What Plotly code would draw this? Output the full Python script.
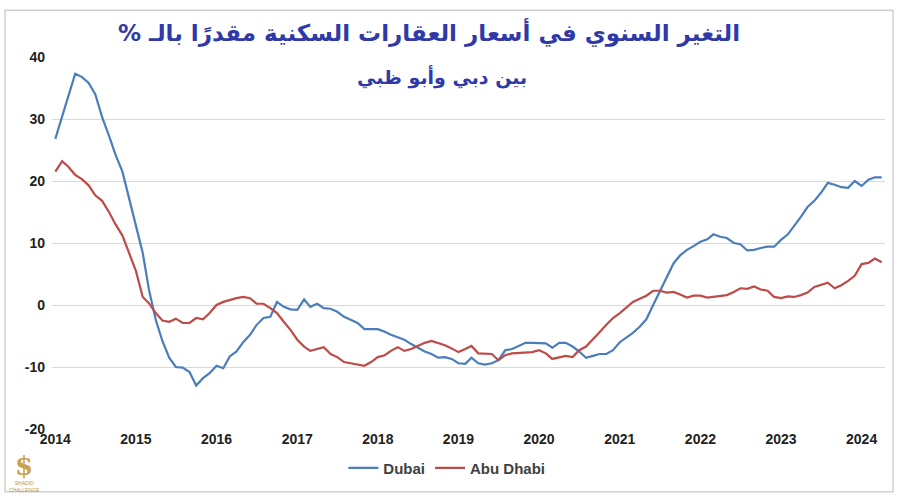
import pandas as pd
import plotly.graph_objects as go

months = pd.date_range("2014-01-01", periods=124, freq="MS")

dubai = [
    26.8, 30.3, 33.8, 37.3, 36.8, 35.8, 34.0, 30.3, 27.3, 24.2, 21.5, 17.0,
    12.8, 8.4, 2.5, -2.4, -5.8, -8.5, -10.0, -10.1, -10.8, -13.0, -11.8, -11.0,
    -9.8, -10.2, -8.3, -7.5, -6.0, -4.8, -3.2, -2.1, -1.9, 0.5, -0.3, -0.7,
    -0.8, 0.9, -0.3, 0.2, -0.5, -0.6, -1.1, -1.9, -2.4, -2.9, -3.9, -3.9,
    -3.9, -4.3, -4.8, -5.2, -5.6, -6.3, -6.9, -7.5, -7.9, -8.5, -8.4, -8.7,
    -9.4, -9.5, -8.5, -9.4, -9.6, -9.4, -8.9, -7.3, -7.1, -6.6, -6.1, -6.1,
    -6.1, -6.2, -6.9, -6.1, -6.1, -6.7, -7.5, -8.5, -8.2, -7.9, -7.9, -7.3,
    -6.0, -5.2, -4.5, -3.5, -2.3, 0.0, 2.2, 4.5, 6.7, 8.0, 8.9, 9.5,
    10.2, 10.6, 11.4, 11.0, 10.8, 10.0, 9.8, 8.8, 8.9, 9.2, 9.4, 9.4,
    10.5, 11.4, 12.7, 14.2, 15.8, 16.8, 18.1, 19.7, 19.4, 19.0, 18.9, 20.0,
    19.2, 20.2, 20.6, 20.6,
]

abu_dhabi = [
    21.5, 23.2, 22.3, 21.0, 20.3, 19.3, 17.7, 16.8, 15.0, 13.0, 11.2, 8.5,
    5.5, 1.3, 0.3, -1.3, -2.5, -2.7, -2.2, -2.9, -2.9, -2.1, -2.3, -1.3,
    0.0, 0.5, 0.8, 1.1, 1.3, 1.1, 0.2, 0.2, -0.5, -1.3, -2.7, -4.0,
    -5.6, -6.7, -7.4, -7.1, -6.8, -7.9, -8.4, -9.2, -9.4, -9.5, -9.8, -9.2,
    -8.4, -8.1, -7.4, -6.8, -7.4, -7.1, -6.6, -6.1, -5.8, -6.1, -6.5, -7.0,
    -7.6, -7.1, -6.6, -7.8, -7.9, -7.9, -8.9, -8.1, -7.8, -7.7, -7.6, -7.6,
    -7.3, -7.8, -8.7, -8.4, -8.2, -8.4, -7.3, -6.7, -5.6, -4.4, -3.2, -2.1,
    -1.3, -0.3, 0.5, 1.0, 1.5, 2.3, 2.3, 2.0, 2.1, 1.7, 1.2, 1.5,
    1.5, 1.2, 1.3, 1.5, 1.6, 2.1, 2.7, 2.6, 3.0, 2.5, 2.3, 1.3,
    1.1, 1.4, 1.3, 1.6, 2.0, 2.9, 3.2, 3.6, 2.7, 3.2, 3.9, 4.7,
    6.6, 6.8, 7.5, 6.9,
]

year_ticks = pd.date_range("2014-01-01", "2024-01-01", freq="YS")
year_labels = [str(d.year) for d in year_ticks]
y_ticks = [-20, -10, 0, 10, 20, 30, 40]

title_line1 = "\u202Bالتغير السنوي في أسعار العقارات السكنية مقدرًا بالـ %\u202C\u200F"
title_line2 = "\u202Bبين دبي وأبو ظبي\u202C"

fig = go.Figure()
fig.add_trace(go.Scatter(x=months, y=dubai, mode="lines", name="<b>Dubai</b>",
                         line=dict(color="#4a7ebb", width=2.2)))
fig.add_trace(go.Scatter(x=months, y=abu_dhabi, mode="lines", name="<b>Abu Dhabi</b>",
                         line=dict(color="#be4b48", width=2.2)))

tick_font = dict(family="Liberation Sans", size=14, color="#222222")

fig.update_layout(
    width=900, height=500,
    margin=dict(l=52, r=15, t=57, b=71),
    paper_bgcolor="white", plot_bgcolor="white",
    showlegend=True,
    legend=dict(orientation="h", x=0.474, xanchor="center", y=-0.105, yanchor="middle",
                font=dict(family="Liberation Sans", size=15, color="#404040"),
                itemwidth=30, tracegroupgap=0),
    xaxis=dict(
        range=[pd.Timestamp("2013-12-17"), pd.Timestamp("2024-04-16")],
        tickvals=list(year_ticks), ticktext=["<b>%s</b>" % t for t in year_labels],
        tickfont=tick_font, showgrid=False, zeroline=False, showline=False,
        ticks="", ticklen=0,
    ),
    yaxis=dict(
        range=[-20, 40], tickvals=y_ticks,
        ticktext=["<b>%d</b>" % v for v in y_ticks],
        tickfont=tick_font, showgrid=True, gridcolor="#d9d9d9", gridwidth=1,
        zeroline=False, showline=False, ticks="", ticklabelstandoff=6,
    ),
    shapes=[
        dict(type="rect", xref="paper", yref="paper", x0=-0.0564, x1=1.0096,
             y0=-0.169, y1=1.126, line=dict(color="#d0d0d0", width=1.5),
             fillcolor="rgba(0,0,0,0)", layer="below"),
    ],
    annotations=[
        dict(text="<b>" + title_line1 + "</b>", xref="paper", yref="paper", x=0.453, y=1.067,
             showarrow=False, xanchor="center", yanchor="middle",
             font=dict(family="DejaVu Sans", size=23, color="#2f3aa8")),
        dict(text="<b>" + title_line2 + "</b>", xref="paper", yref="paper", x=0.468, y=0.945,
             showarrow=False, xanchor="center", yanchor="middle",
             font=dict(family="DejaVu Sans", size=19, color="#2f3aa8")),
        dict(text="<b>$</b>", xref="paper", yref="paper", x=-0.0336, y=-0.1,
             showarrow=False, xanchor="center", yanchor="middle",
             font=dict(family="DejaVu Serif", size=26, color="#c9a24a")),
        dict(text="SHADID<br>CHALLENGE", xref="paper", yref="paper", x=-0.0336, y=-0.155,
             showarrow=False, xanchor="center", yanchor="middle",
             font=dict(family="Liberation Sans Narrow, Liberation Sans", size=5, color="#b8964a")),
    ],
)

fig.write_html("out.html", config={"displayModeBar": False},
               post_script="document.body.style.margin='0';")
